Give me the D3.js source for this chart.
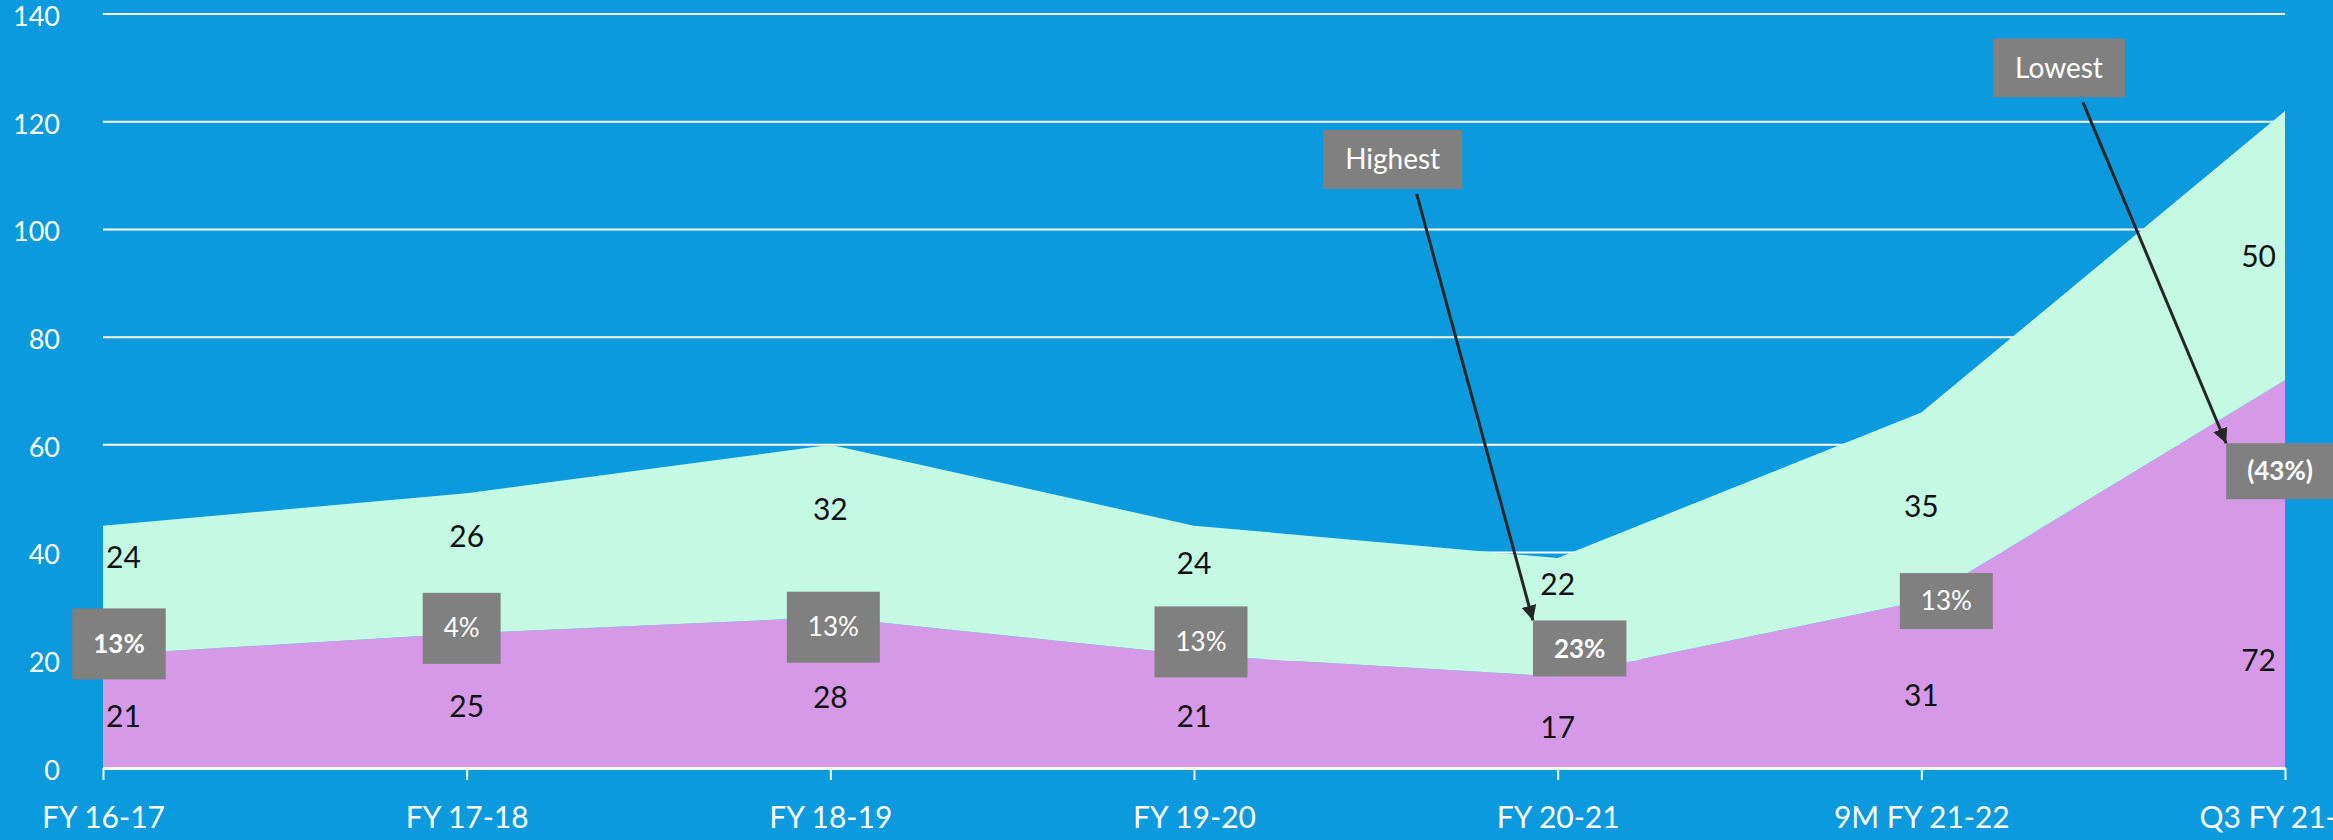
<!DOCTYPE html>
<html>
<head>
<meta charset="utf-8">
<script src="https://cdn.jsdelivr.net/npm/d3@7"></script>
<style>
  html, body { margin: 0; padding: 0; background: #0a9add; overflow: hidden; }
  text { font-family: Lato, "Open Sans", sans-serif; }
</style>
</head>
<body>
<script>
(function (d3) {
	'use strict';

	// data
	var categories = ['FY 16-17', 'FY 17-18', 'FY 18-19', 'FY 19-20', 'FY 20-21', '9M FY 21-22', 'Q3 FY 21-22'];
	var lower = [21, 25, 28, 21, 17, 31, 72];   // purple
	var upper = [24, 26, 32, 24, 22, 35, 50];   // green
	var growth = ['13%', '4%', '13%', '13%', '23%', '13%', '(43%)'];
	var growthBold = [true, false, false, false, true, false, true];
	var yTicks = [0, 20, 40, 60, 80, 100, 120, 140];
	var notes = [
		{ text: 'Highest', target: 4 },
		{ text: 'Lowest', target: 6 }
	];

	// layout tweaks (where the original placed things by hand)
	var upperLabelShift = [6, 5, 4, 5, 6, 0, -2];      // value units
	var lowerLabelShift = [-1, -1, -1, -1, -1, -2, -16];
	var boxShift = [[16, -11, 71], [-5, -5, 71], [3, 10, 71], [7, -13, 71], [22, -28, 56], [25, 0, 56], [-5, 91, 56]];
	var noteShift = [[-165, 113], [-226, 130]];        // px from category, value

	var width = 2333,
	    height = 840;

	var svg = d3.select('body').append('svg')
		.attr('width', width)
		.attr('height', height);

	svg.append('rect')
		.attr('width', width)
		.attr('height', height)
		.attr('fill', '#0a9add');

	var x = d3.scalePoint().domain(categories).range([103, 2285]);
	var y = d3.scaleLinear().domain([0, 140]).range([768, 14]);

	// grid
	svg.append('g').selectAll('line')
		.data(yTicks.filter(function (d) { return d > 0; }))
		.enter().append('line')
		.attr('x1', 103).attr('x2', 2285)
		.attr('y1', function (d) { return y(d); })
		.attr('y2', function (d) { return y(d); })
		.attr('stroke', '#fff')
		.attr('stroke-width', 2);

	// stacked areas
	var rows = categories.map(function (c, i) {
		return { cat: c, lower: lower[i], upper: upper[i] };
	});
	var series = d3.stack().keys(['lower', 'upper'])(rows);
	var colors = { lower: '#d699e8', upper: '#c4fae4' };

	var area = d3.area()
		.x(function (d) { return x(d.data.cat); })
		.y0(function (d) { return y(d[0]); })
		.y1(function (d) { return y(d[1]); });

	svg.append('g').selectAll('path')
		.data(series)
		.enter().append('path')
		.attr('d', area)
		.attr('fill', function (s) { return colors[s.key]; });

	// axes
	var xAxis = svg.append('g')
		.attr('transform', 'translate(0,768)')
		.call(d3.axisBottom(x).tickSize(12).tickSizeOuter(0));
	xAxis.select('.domain').attr('stroke', '#fff').attr('stroke-width', 3);
	xAxis.selectAll('.tick line').attr('stroke', '#fff').attr('stroke-width', 2);
	xAxis.selectAll('.tick text')
		.attr('y', 60).attr('dy', 0)
		.attr('fill', '#fff')
		.style('font-size', '30px');

	var yAxis = svg.append('g')
		.attr('transform', 'translate(60,0)')
		.call(d3.axisLeft(y).tickValues(yTicks).tickSize(0).tickPadding(0));
	yAxis.select('.domain').remove();
	yAxis.selectAll('.tick text')
		.attr('fill', '#fff')
		.attr('dy', '0.42em')
		.style('font-size', '27px');

	// value labels
	var last = categories.length - 1;
	function labelX(i) {
		if (i === 0) return x(categories[i]) + 3;
		if (i === last) return x(categories[i]) - 9;
		return x(categories[i]);
	}
	function labelAnchor(i) {
		return i === 0 ? 'start' : (i === last ? 'end' : 'middle');
	}

	series.forEach(function (s) {
		var shift = s.key === 'lower' ? lowerLabelShift : upperLabelShift;
		svg.append('g').selectAll('text')
			.data(s)
			.enter().append('text')
			.attr('x', function (d, i) { return labelX(i); })
			.attr('y', function (d, i) { return y((d[0] + d[1]) / 2 + shift[i]); })
			.attr('dy', '0.35em')
			.attr('text-anchor', function (d, i) { return labelAnchor(i); })
			.attr('fill', '#111')
			.style('font-size', '30px')
			.text(function (d) { return d.data[s.key]; });
	});

	// growth boxes
	var boxes = [];
	var gBox = svg.append('g');
	growth.forEach(function (g, i) {
		var cx = x(categories[i]) + boxShift[i][0],
		    cy = y(lower[i]) + boxShift[i][1],
		    h = boxShift[i][2];
		var grp = gBox.append('g');
		var rect = grp.append('rect').attr('fill', '#808080');
		var t = grp.append('text')
			.attr('x', cx).attr('y', cy)
			.attr('dy', '0.35em')
			.attr('text-anchor', 'middle')
			.attr('fill', '#fff')
			.style('font-size', '26px')
			.style('font-weight', growthBold[i] ? 'bold' : 'normal')
			.text(g);
		var w = t.node().getComputedTextLength() + 42;
		rect.attr('x', cx - w / 2).attr('y', cy - h / 2)
			.attr('width', w).attr('height', h);
		boxes.push({ x0: cx - w / 2, y0: cy - h / 2 });
	});

	// arrow callouts
	svg.append('defs').append('marker')
		.attr('id', 'arrow')
		.attr('viewBox', '0 -5 10 10')
		.attr('refX', 10)
		.attr('refY', 0)
		.attr('markerWidth', 5)
		.attr('markerHeight', 5)
		.attr('markerUnits', 'strokeWidth')
		.attr('orient', 'auto')
		.append('path')
		.attr('d', 'M0,-5L10,0L0,5Z')
		.attr('fill', '#262626');

	notes.forEach(function (n, k) {
		var cx = x(categories[n.target]) + noteShift[k][0],
		    cy = y(noteShift[k][1]),
		    h = 59;
		var grp = svg.append('g');
		var rect = grp.append('rect').attr('fill', '#808080');
		var t = grp.append('text')
			.attr('x', cx).attr('y', cy)
			.attr('dy', '0.35em')
			.attr('text-anchor', 'middle')
			.attr('fill', '#fff')
			.style('font-size', '28px')
			.text(n.text);
		var w = t.node().getComputedTextLength() + 44;
		rect.attr('x', cx - w / 2).attr('y', cy - h / 2)
			.attr('width', w).attr('height', h);

		var b = boxes[n.target];
		svg.append('line')
			.attr('x1', cx + 24).attr('y1', cy + h / 2 + 5)
			.attr('x2', b.x0).attr('y2', b.y0)
			.attr('stroke', '#262626')
			.attr('stroke-width', 3)
			.attr('marker-end', 'url(#arrow)');
	});

})(d3);
</script>
</body>
</html>
